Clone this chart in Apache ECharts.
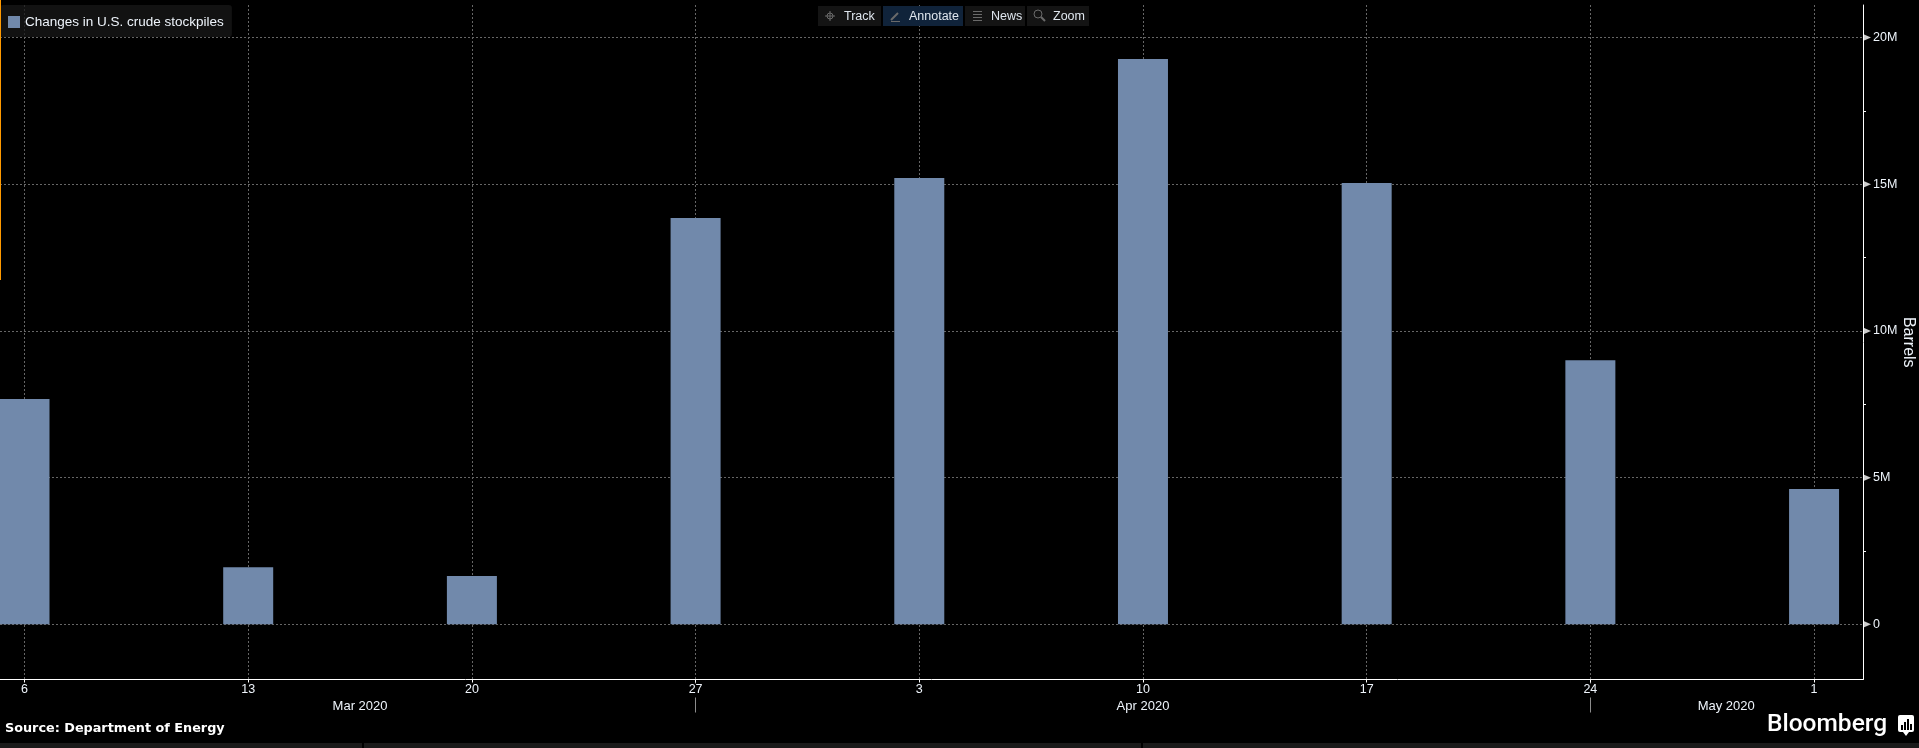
<!DOCTYPE html>
<html>
<head>
<meta charset="utf-8">
<style>
  html, body { margin: 0; padding: 0; background: #000; }
  #main { width: 1919px; height: 748px; }
</style>
<script src="https://cdn.jsdelivr.net/npm/echarts@6/dist/echarts.min.js"></script>
</head>
<body>
<div id="main"></div>
<script>
var seriesName = "Changes in U.S. crude stockpiles";
var weekDates = ["2020-03-06", "2020-03-13", "2020-03-20", "2020-03-27", "2020-04-03", "2020-04-10", "2020-04-17", "2020-04-24", "2020-05-01"];
var stockChanges = [7680000, 1950000, 1650000, 13850000, 15210000, 19270000, 15040000, 9000000, 4610000];
var yMajorTicks = [0, 5000000, 10000000, 15000000, 20000000];
var yMinorTicks = [2500000, 7500000, 12500000, 17500000];
var monthLabelDates = ["2020-03-16T12:00:00Z", "2020-04-10T00:00:00Z", "2020-04-28T06:00:00Z"];
var monthNames = ["Mar 2020", "Apr 2020", "May 2020"];
var monthEdgeDates = ["2020-03-27", "2020-04-24"];
var xStart = "2020-03-05T05:36:00Z";
var xEnd = "2020-05-02T12:45:00Z";
var yMin = -1880000;
var yMax = 21110000;

var FONT = "Liberation Sans";
var TEXT = "#eef4fb";
var ICON = "#6a6a6a";

function ts(d) { return +new Date(d); }

// toolbar buttons along the top, x/width in page pixels
var buttons = [
  { x: 818, w: 63, text: "Track", tx: 844, bg: "#141414" },
  { x: 883, w: 80, text: "Annotate", tx: 909, bg: "#10233a" },
  { x: 965, w: 60, text: "News", tx: 991, bg: "#141414" },
  { x: 1027, w: 62, text: "Zoom", tx: 1053, bg: "#141414" }
];

var graphics = [];
buttons.forEach(function (b) {
  graphics.push({ type: "rect", shape: { x: b.x, y: 6, width: b.w, height: 20 }, style: { fill: b.bg }, z: 20 });
  graphics.push({ type: "text", x: b.tx, y: 16.5, style: { text: b.text, fill: "#dfe6ee", font: "12.5px " + FONT, textVerticalAlign: "middle" }, z: 21 });
});
function line(x1, y1, x2, y2, w) {
  graphics.push({ type: "line", shape: { x1: x1, y1: y1, x2: x2, y2: y2 }, style: { stroke: ICON, lineWidth: w || 1 }, z: 21 });
}
// Track
graphics.push({ type: "circle", shape: { cx: 830, cy: 16, r: 3 }, style: { fill: "none", stroke: ICON }, z: 21 });
line(825, 16, 835, 16); line(830, 11, 830, 21);
// Annotate
line(891, 20, 898, 13, 2); line(891, 21.5, 900, 21.5);
// News
line(973, 11.5, 982, 11.5); line(973, 14.5, 982, 14.5); line(973, 17.5, 982, 17.5); line(973, 20.5, 982, 20.5);
// Zoom
graphics.push({ type: "circle", shape: { cx: 1038, cy: 14, r: 4 }, style: { fill: "none", stroke: ICON }, z: 21 });
line(1041, 17, 1045, 21, 2);

// orange marker on the left edge
graphics.push({ type: "rect", shape: { x: 0, y: 0, width: 1, height: 280 }, style: { fill: "#ff9a00" }, z: 20 });

// footer
graphics.push({ type: "text", x: 5, y: 729, style: { text: "Source: Department of Energy", fill: "#ffffff", font: "bold 12.8px DejaVu Sans", textVerticalAlign: "middle" }, z: 21 });
graphics.push({ type: "text", x: 1767, y: 725, style: { text: "Bloomberg", fill: "#ffffff", font: "500 24.5px Roboto", textVerticalAlign: "middle" }, z: 21 });
graphics.push({ type: "rect", shape: { x: 1898, y: 715, width: 16, height: 17, r: 2 }, style: { fill: "#ffffff" }, z: 21 });
graphics.push({ type: "polygon", shape: { points: [[1903, 732], [1909, 732], [1906, 736]] }, style: { fill: "#ffffff" }, z: 21 });
[[1901, 725, 2, 5], [1904, 722, 2, 8], [1907, 719, 2, 11], [1910, 724, 2, 6]].forEach(function (r) {
  graphics.push({ type: "rect", shape: { x: r[0], y: r[1], width: r[2], height: r[3] }, style: { fill: "#000000" }, z: 22 });
});
// strip along the bottom edge
graphics.push({ type: "rect", shape: { x: 0, y: 743, width: 362, height: 5 }, style: { fill: "#1a1a1a" }, z: 20 });
graphics.push({ type: "rect", shape: { x: 364, y: 743, width: 777, height: 5 }, style: { fill: "#1a1a1a" }, z: 20 });
graphics.push({ type: "rect", shape: { x: 1143, y: 743, width: 776, height: 5 }, style: { fill: "#1a1a1a" }, z: 20 });

var chart = echarts.init(document.getElementById("main"), null, { renderer: "canvas" });
chart.setOption({
  useUTC: true,
  backgroundColor: "#000",
  animation: false,
  legend: {
    data: [seriesName],
    left: 0,
    top: 5,
    padding: [10, 8, 8, 8],
    icon: "rect",
    itemWidth: 12,
    itemHeight: 12,
    borderRadius: 3,
    backgroundColor: "rgba(24,24,24,0.75)",
    textStyle: { color: TEXT, fontFamily: FONT, fontSize: 13.5 },
    z: 10
  },
  grid: { left: 0, right: 56, top: 5, height: 674.5, outerBoundsMode: "none" },
  xAxis: [
    {
      // value axis holding timestamps, the time axis chokes on customValues
      type: "value",
      z: 1,
      min: ts(xStart),
      max: ts(xEnd),
      position: "bottom",
      axisLine: { show: true, onZero: false, lineStyle: { color: "#ffffff", width: 1 } },
      axisTick: { show: true, length: 3, customValues: weekDates.map(ts), lineStyle: { color: "#ffffff" } },
      axisLabel: {
        customValues: weekDates.map(ts),
        margin: 4,
        color: TEXT,
        fontFamily: FONT,
        fontSize: 12.5,
        backgroundColor: "#000",
        padding: [0, 2, 1, 2],
        formatter: function (v) { return echarts.time.format(v, "{d}", true); }
      },
      splitLine: { show: true, lineStyle: { color: "#666666", type: [2, 2], width: 1 } }
    },
    {
      type: "value",
      z: 0,
      min: ts(xStart),
      max: ts(xEnd),
      position: "bottom",
      axisLine: { show: false, onZero: false },
      axisTick: { show: true, length: 33, customValues: monthEdgeDates.map(ts), lineStyle: { color: "#8c8c8c" } },
      axisLabel: {
        customValues: monthLabelDates.map(ts),
        margin: 20,
        color: TEXT,
        fontFamily: FONT,
        fontSize: 13,
        formatter: function (v) { return monthNames[monthLabelDates.map(ts).indexOf(v)]; }
      },
      splitLine: { show: false }
    }
  ],
  yAxis: [
    {
      type: "value",
      min: yMin,
      max: yMax,
      position: "right",
      name: "Barrels",
      nameLocation: "middle",
      nameRotate: -90,
      nameGap: 45,
      nameMoveOverlap: false,
      nameTextStyle: { color: TEXT, fontFamily: FONT, fontSize: 16, verticalAlign: "middle" },
      axisLine: { show: true, onZero: false, lineStyle: { color: "#ffffff", width: 1 } },
      axisTick: { show: false, customValues: yMajorTicks },
      axisLabel: {
        customValues: yMajorTicks,
        margin: 10,
        color: TEXT,
        fontFamily: FONT,
        fontSize: 12.5,
        formatter: function (v) { return v === 0 ? "0" : v / 1000000 + "M"; }
      },
      splitLine: { show: true, lineStyle: { color: "#666666", type: [2, 2], width: 1 } }
    },
    {
      type: "value",
      min: yMin,
      max: yMax,
      position: "right",
      axisLine: { show: false, onZero: false },
      axisTick: { show: true, length: 3, inside: false, customValues: yMinorTicks, lineStyle: { color: "#ffffff" } },
      axisLabel: { show: false },
      splitLine: { show: false }
    }
  ],
  series: [
    {
      name: seriesName,
      type: "bar",
      barWidth: 50,
      itemStyle: { color: "#7189ab" },
      data: weekDates.map(function (d, i) { return [ts(d), stockChanges[i]]; }),
      z: 3
    },
    {
      // the little pointers on the value axis
      name: "pointers",
      type: "scatter",
      symbol: "triangle",
      symbolSize: [7, 8],
      symbolRotate: -90,
      symbolOffset: [4, 0],
      clip: false,
      silent: true,
      itemStyle: { color: "#ffffff" },
      data: yMajorTicks.map(function (v) { return [ts(xEnd), v]; }),
      z: 4
    }
  ],
  graphic: graphics
});
</script>
</body>
</html>
